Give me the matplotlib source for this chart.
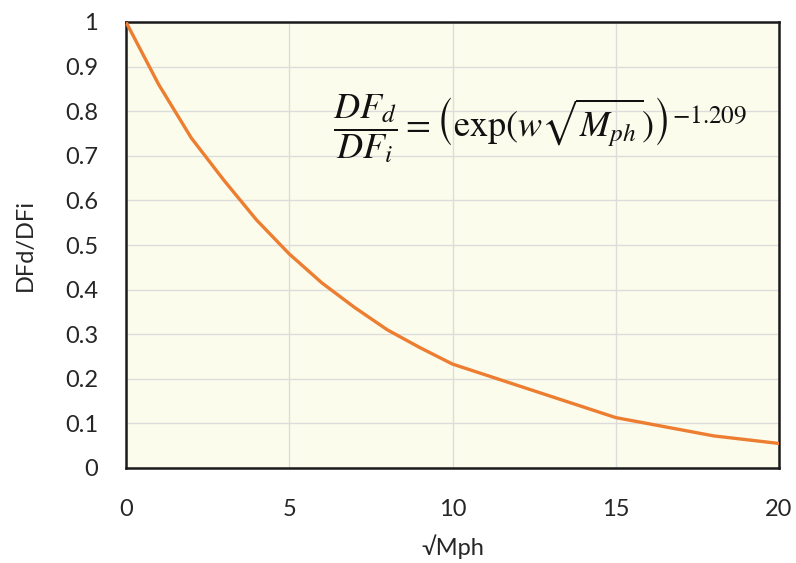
import matplotlib
matplotlib.use("Agg")
import matplotlib.pyplot as plt

x_vals = [0, 1, 2, 3, 4, 5, 6, 7, 8, 9, 10, 15, 18, 20]
y_vals = [1.0, 0.86, 0.74, 0.645, 0.556, 0.48, 0.415, 0.36, 0.31, 0.27, 0.233, 0.113, 0.072, 0.055]
x_ticks = [0, 5, 10, 15, 20]
y_ticks = [0, 0.1, 0.2, 0.3, 0.4, 0.5, 0.6, 0.7, 0.8, 0.9, 1.0]
y_tick_labels = ["0", "0.1", "0.2", "0.3", "0.4", "0.5", "0.6", "0.7", "0.8", "0.9", "1"]

plt.rcParams['font.family'] = ['Lato', 'DejaVu Sans']
plt.rcParams['mathtext.fontset'] = 'stix'

fig = plt.figure(figsize=(7.96, 5.63), dpi=100)
ax = fig.add_axes([126/796, 1 - 468/563, (779-126)/796, (468-22)/563])
ax.set_facecolor('#FCFCEC')
ax.plot(x_vals, y_vals, color='#ED7D31', lw=2.4, solid_capstyle='round', zorder=3)
ax.set_xlim(0, 20)
ax.set_ylim(0, 1)
ax.set_xticks(x_ticks)
ax.set_yticks(y_ticks)
ax.set_yticklabels(y_tick_labels)
ax.grid(True, color='#DCDCDC', lw=1)
ax.set_axisbelow(True)
for s in ax.spines.values():
    s.set_linewidth(1.8)
    s.set_color('#1a1a1a')
ax.tick_params(length=0, labelsize=17, colors='#262626')
ax.tick_params(axis='x', pad=22)
ax.tick_params(axis='y', pad=20)
ax.set_xlabel('√Mph', fontsize=17, color='#262626', labelpad=11)
ax.yaxis.set_label_coords(-(126-25)/653, 0.5)
ax.set_ylabel('DFd/DFi', fontsize=17, color='#262626', va='center')
ax.text(0.634, 0.76, r'$\dfrac{DF_d}{DF_i} = \left(\exp(w\sqrt{M_{ph}})\right)^{-1.209}$',
        transform=ax.transAxes, fontsize=26, ha='center', va='center', color='#111111')
fig.savefig('out.png', dpi=100)
